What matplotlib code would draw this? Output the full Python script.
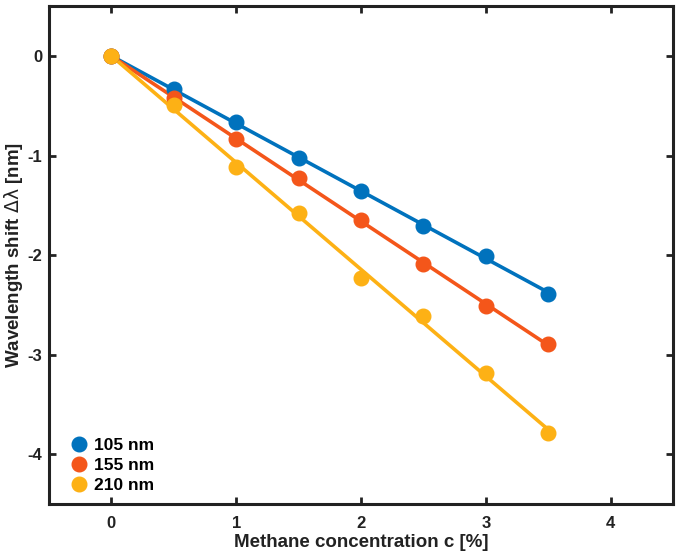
import numpy as np
import matplotlib
matplotlib.use("Agg")
from matplotlib import pyplot as plt

# methane concentration [%] and measured wavelength shifts [nm]
conc = [0, 0.5, 1.0, 1.5, 2.0, 2.5, 3.0, 3.5]
shift_105 = [0, -0.33, -0.66, -1.02, -1.36, -1.71, -2.01, -2.39]
shift_155 = [0, -0.42, -0.83, -1.23, -1.65, -2.09, -2.51, -2.89]
shift_210 = [0, -0.49, -1.12, -1.58, -2.23, -2.61, -3.18, -3.79]
labels = ["105 nm", "155 nm", "210 nm"]
colors = ["#0072BD", "#F4561A", "#FDB115"]

plt.rcParams['font.family'] = ['Liberation Sans', 'DejaVu Sans']
plt.rcParams['axes.unicode_minus'] = False
plt.rcParams['mathtext.fontset'] = 'custom'
plt.rcParams['mathtext.rm'] = 'DejaVu Sans'

fig = plt.figure(figsize=(6.79, 5.60), dpi=100)
ax = fig.add_axes([0.0722, 0.1, 0.919, 0.889])

x = np.array(conc)
for y, lab, col in zip([shift_105, shift_155, shift_210], labels, colors):
  y = np.array(y)
  # linear fit through the origin
  slope = np.linalg.lstsq(x[:, None], y, rcond=None)[0][0]
  ax.plot(x, slope * x, color=col, linewidth=2.6, zorder=2)
  ax.plot(x, y, 'o', color=col, markersize=10.5, label=lab, zorder=3)

ax.set_xlim(-0.5, 4.5)
ax.set_ylim(-4.5, 0.5)
ax.set_xticks([0, 1, 2, 3, 4])
ax.set_yticks([0, -1, -2, -3, -4])
ax.tick_params(direction='in', length=5, width=2, labelsize=12,
               top=True, right=True, colors='#222222')
ax.tick_params(axis='x', pad=9)
ax.tick_params(axis='y', pad=5)
for label in ax.get_xticklabels() + ax.get_yticklabels():
  label.set_fontweight('bold')
for sp in ax.spines.values():
  sp.set_linewidth(2.2)
  sp.set_color('#222222')

ax.set_xlabel('Methane concentration c [%]', fontsize=13.5, fontweight='bold',
              color='#222222', labelpad=2)
ax.set_ylabel(r'Wavelength shift $\mathrm{\Delta\lambda}$ [nm]', fontsize=13.5,
              fontweight='bold', color='#222222', labelpad=2)

ax.legend(loc='lower left', bbox_to_anchor=(0.007, -0.01), frameon=False,
          prop={'size': 12.5, 'weight': 'bold'}, handletextpad=0.25,
          labelspacing=0.3, handlelength=1.2, borderaxespad=0.5)

fig.savefig('out.png', dpi=100)
